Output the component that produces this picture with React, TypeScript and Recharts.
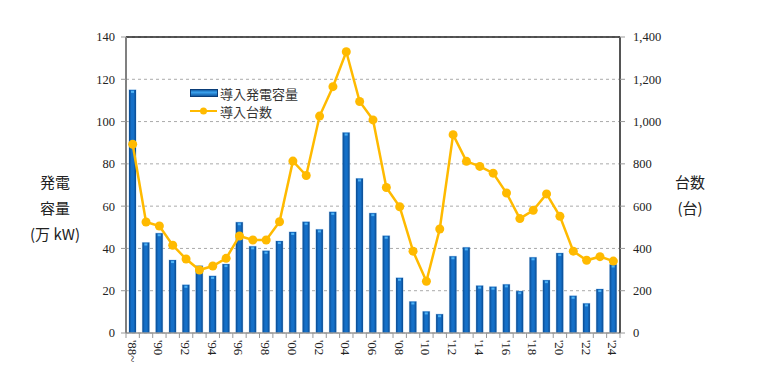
import React from "react";
import {
  ComposedChart,
  Bar,
  Line,
  XAxis,
  YAxis,
  CartesianGrid,
  ReferenceLine,
  Label,
} from "recharts";

const years = [
  "'88~", "'89", "'90", "'91", "'92", "'93", "'94", "'95", "'96", "'97",
  "'98", "'99", "'00", "'01", "'02", "'03", "'04", "'05", "'06", "'07",
  "'08", "'09", "'10", "'11", "'12", "'13", "'14", "'15", "'16", "'17",
  "'18", "'19", "'20", "'21", "'22", "'23", "'24",
];

const capacity = [
  115, 42.8, 47.2, 34.5, 22.8, 31.8, 27, 32.6, 52.4, 41,
  38.9, 43.5, 47.8, 52.6, 49, 57.3, 94.8, 73.1, 56.7, 46,
  26.1, 14.9, 10.2, 8.9, 36.3, 40.5, 22.4, 21.9, 23, 19.8,
  35.8, 25, 37.8, 17.6, 14, 20.8, 32.4,
];

const units = [
  893, 525, 506, 415, 350, 298, 317, 353, 459, 440,
  440, 526, 813, 745, 1026, 1165, 1330, 1095, 1008, 688,
  597, 387, 245, 492, 938, 812, 788, 756, 662, 541,
  580, 658, 552, 387, 344, 361, 340,
];

const leftTicks = [0, 20, 40, 60, 80, 100, 120, 140];
const rightTicks = [0, 200, 400, 600, 800, 1000, 1200, 1400];

const seriesNames = { bar: "導入発電容量", line: "導入台数" };

const data = years.map((y, i) => ({ year: y, cap: capacity[i], units: units[i] }));

const W = 751;
const H = 366;
const PLOT_LEFT = 118;
const PLOT_RIGHT = 612;
const BAND = (PLOT_RIGHT - PLOT_LEFT) / years.length;

const NUM_FONT = "'Liberation Serif', 'DejaVu Serif', serif";
const JP_FONT = "'Noto Sans CJK JP', 'Noto Sans CJK SC', sans-serif";
const LINE_COLOR = "#FFBA00";

const XTick = (props: any) => {
  const { x, y, payload, index } = props;
  const left = x - BAND / 2;
  const right = x + BAND / 2;
  return (
    <g>
      <line x1={left} y1={y} x2={left} y2={y + 5} stroke="#999" strokeWidth={1} />
      {index === years.length - 1 && (
        <line x1={right} y1={y} x2={right} y2={y + 5} stroke="#999" strokeWidth={1} />
      )}
      {index % 2 === 0 && (
        <text
          transform={`translate(${x - 0.5},${y + 7}) rotate(90)`}
          textAnchor="start"
          dominantBaseline="central"
          fontSize={13}
          fontFamily={NUM_FONT}
          fill="#222"
        >
          {payload.value}
        </text>
      )}
    </g>
  );
};

const BarShape = (props: any) => {
  const { x, y, width, height } = props;
  if (!height || height <= 0) return null;
  return (
    <g>
      <rect x={x - 0.5} y={y - 0.5} width={width + 1} height={height + 0.5} fill="#9cc8ee" opacity={0.6} />
      <rect x={x} y={y} width={width} height={height} fill="url(#barGrad)" />
      <rect x={x + 2} y={y + 1} width={width - 4} height={2} fill="#4fb3f5" />
    </g>
  );
};

const LegendBox = () => (
  <svg width={200} height={44} style={{ position: "absolute", left: 182, top: 77 }}>
    <defs>
      <linearGradient id="legGrad" x1="0" y1="0" x2="0" y2="1">
        <stop offset="0%" stopColor="#0a4f98" />
        <stop offset="40%" stopColor="#3ba3ef" />
        <stop offset="100%" stopColor="#0a4f98" />
      </linearGradient>
    </defs>
    <rect x={0.5} y={4.5} width={27} height={7} fill="url(#legGrad)" stroke="#0a3d78" strokeWidth={1} />
    <text x={30} y={8} dominantBaseline="central" fontSize={13} fontFamily={JP_FONT} fill="#333">
      {seriesNames.bar}
    </text>
    <line x1={0} y1={26} x2={27} y2={26} stroke={LINE_COLOR} strokeWidth={2} />
    <circle cx={13.5} cy={26} r={3.5} fill={LINE_COLOR} />
    <text x={30} y={26} dominantBaseline="central" fontSize={13} fontFamily={JP_FONT} fill="#333">
      {seriesNames.line}
    </text>
  </svg>
);

const LeftLabel = () => (
  <g fontFamily={JP_FONT} fontSize={15} fill="#222" textAnchor="middle">
    <text x={47} y={173} dominantBaseline="central">発電</text>
    <text x={47} y={199} dominantBaseline="central">容量</text>
    <text x={47} y={225} dominantBaseline="central">(万 kW)</text>
  </g>
);

const RightLabel = () => (
  <g fontFamily={JP_FONT} fontSize={15} fill="#222" textAnchor="middle">
    <text x={682} y={173} dominantBaseline="central">台数</text>
    <text x={682} y={199} dominantBaseline="central">(台)</text>
  </g>
);

export default function App() {
  return (
    <div style={{ width: W, height: H, position: "relative", background: "#fff" }}>
      <ComposedChart
        width={W}
        height={H}
        data={data}
        margin={{ top: 29, right: W - PLOT_RIGHT - 60, left: PLOT_LEFT - 60, bottom: 11 }}
        barCategoryGap={0}
      >
        <defs>
          <linearGradient id="barGrad" x1="0" y1="0" x2="1" y2="0">
            <stop offset="0%" stopColor="#0a4a90" />
            <stop offset="35%" stopColor="#1570c8" />
            <stop offset="65%" stopColor="#1570c8" />
            <stop offset="100%" stopColor="#0a4a90" />
          </linearGradient>
        </defs>
        <CartesianGrid vertical={false} stroke="#aaa" strokeDasharray="3 3" yAxisId="left" />
        <XAxis
          dataKey="year"
          interval={0}
          tickSize={0}
          tickMargin={0}
          tickLine={false}
          tick={<XTick />}
          height={30}
          axisLine={{ stroke: "#999", strokeWidth: 1.5 }}
        />
        <YAxis
          yAxisId="left"
          orientation="left"
          width={60}
          domain={[0, 140]}
          ticks={leftTicks}
          interval={0}
          tickSize={5}
          tickMargin={6}
          axisLine={{ stroke: "#808080", strokeWidth: 2 }}
          tickLine={{ stroke: "#999" }}
          tick={{ fontSize: 12.5, fontFamily: NUM_FONT, fill: "#222" }}
        >
          <Label content={<LeftLabel />} />
        </YAxis>
        <YAxis
          yAxisId="right"
          orientation="right"
          width={60}
          domain={[0, 1400]}
          ticks={rightTicks}
          interval={0}
          tickSize={5}
          tickMargin={8}
          tickFormatter={(v: number) => v.toLocaleString("en-US")}
          axisLine={{ stroke: "#555", strokeWidth: 2 }}
          tickLine={{ stroke: "#999" }}
          tick={{ fontSize: 12.5, fontFamily: NUM_FONT, fill: "#222" }}
        >
          <Label content={<RightLabel />} />
        </YAxis>
        <ReferenceLine yAxisId="left" y={140} stroke="#222" strokeWidth={1.5} />
        <Bar
          yAxisId="left"
          dataKey="cap"
          name={seriesNames.bar}
          barSize={7}
          shape={<BarShape />}
          isAnimationActive={false}
        />
        <Line
          yAxisId="right"
          dataKey="units"
          name={seriesNames.line}
          type="linear"
          stroke={LINE_COLOR}
          strokeWidth={2.5}
          dot={{ r: 4.5, fill: LINE_COLOR, stroke: LINE_COLOR, strokeWidth: 0 }}
          activeDot={false}
          isAnimationActive={false}
        />
      </ComposedChart>
      <LegendBox />
    </div>
  );
}
